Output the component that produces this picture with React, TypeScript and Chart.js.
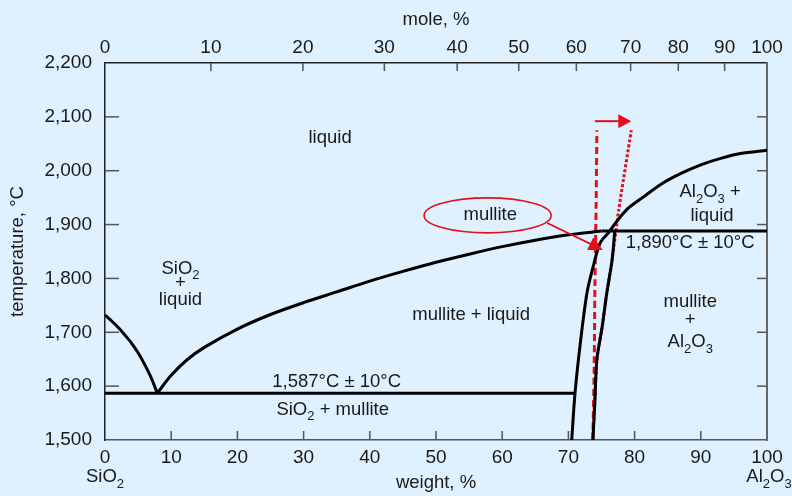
import React, { useEffect, useRef } from "react";
import { Chart, registerables } from "chart.js";
Chart.register(...registerables);

const BG = "#dff0fe";
const RED = "#e3101c";
const FONT = "Liberation Sans";

// axes
const weightTicks = [0, 10, 20, 30, 40, 50, 60, 70, 80, 90, 100];
const tempTicks = [1500, 1600, 1700, 1800, 1900, 2000, 2100, 2200];
const moleLabels = [0, 10, 20, 30, 40, 50, 60, 70, 80, 90, 100];
const moleAtWeight = [0, 16.0, 29.9, 42.2, 53.2, 62.5, 71.2, 79.4, 86.6, 93.6, 100];

// phase boundaries (weight %, °C)
const silicaLiqW = [0, 1, 2, 3, 4, 5, 6, 7, 7.9];
const silicaLiqT = [1732, 1721, 1709, 1695, 1680, 1662, 1640, 1615, 1587];
const mulliteLiqW = [7.9, 10, 12.4, 15, 20, 25, 30, 35, 40, 45, 50, 55, 60, 65, 70, 75];
const mulliteLiqT = [1587, 1620, 1649, 1672, 1706, 1733, 1755, 1775, 1795, 1813, 1830, 1845, 1859, 1871, 1881, 1888];
const eutecticW = [0, 71];
const eutecticT = [1587, 1587];
const peritecticW = [75, 100];
const peritecticT = [1888, 1888];
const mulliteLeftW = [70.5, 71.0, 71.8, 72.8, 73.7, 74.8, 76.0, 77.3, 79, 81.3, 84, 87, 90, 93, 96, 100];
const mulliteLeftT = [1500, 1587, 1680, 1773, 1820, 1866, 1884, 1906, 1930, 1951, 1975, 1995, 2011, 2023, 2032, 2038];
const mulliteRightW = [73.7, 74.0, 74.3, 75.1, 75.8, 76.6, 77.0];
const mulliteRightT = [1500, 1570, 1649, 1710, 1773, 1834, 1888];
const redDashedW = [73.7, 73.9, 74.0, 74.2, 74.3];
const redDashedT = [1500, 1640, 1780, 1950, 2075];
const redDottedW = [73.7, 74.3, 75.1, 75.8, 76.6, 77.6, 79.5];
const redDottedT = [1500, 1649, 1710, 1773, 1834, 1927, 2075];

// annotations (weight %, °C)
const shiftArrowW = [74.0, 79.5];
const shiftArrowT = [2092, 2092];
const pointerW = [66.8, 75.2];
const pointerT = [1903, 1853];
const ellipseCenter = [57.8, 1917];
const ellipseRadius = [9.6, 32.5];

type Part = { t: string; sub?: boolean };
const labels: { parts: Part[]; w: number; T: number }[] = [
  { parts: [{ t: "liquid" }], w: 34.0, T: 2061 },
  { parts: [{ t: "SiO" }, { t: "2", sub: true }], w: 11.4, T: 1818 },
  { parts: [{ t: "+" }], w: 11.4, T: 1792 },
  { parts: [{ t: "liquid" }], w: 11.4, T: 1760 },
  { parts: [{ t: "mullite + liquid" }], w: 55.3, T: 1732 },
  { parts: [{ t: "Al" }, { t: "2", sub: true }, { t: "O" }, { t: "3", sub: true }, { t: " +" }], w: 91.4, T: 1960 },
  { parts: [{ t: "liquid" }], w: 91.7, T: 1916 },
  { parts: [{ t: "1,890°C ± 10°C" }], w: 88.4, T: 1866 },
  { parts: [{ t: "mullite" }], w: 88.4, T: 1756 },
  { parts: [{ t: "+" }], w: 88.4, T: 1723 },
  { parts: [{ t: "Al" }, { t: "2", sub: true }, { t: "O" }, { t: "3", sub: true }], w: 88.4, T: 1682 },
  { parts: [{ t: "1,587°C ± 10°C" }], w: 35.0, T: 1608 },
  { parts: [{ t: "SiO" }, { t: "2", sub: true }, { t: " + mullite" }], w: 34.4, T: 1556 },
  { parts: [{ t: "mullite" }], w: 58.2, T: 1918 },
];

const pts = (w: number[], t: number[]) => w.map((x, i) => ({ x, y: t[i] }));

function drawRich(ctx: CanvasRenderingContext2D, parts: Part[], x: number, y: number, size: number) {
  const main = `${size}px "${FONT}"`;
  const sub = `${Math.round(size * 0.72)}px "${FONT}"`;
  let total = 0;
  for (const p of parts) {
    ctx.font = p.sub ? sub : main;
    total += ctx.measureText(p.t).width;
  }
  let cx = x - total / 2;
  ctx.textAlign = "left";
  ctx.textBaseline = "middle";
  for (const p of parts) {
    ctx.font = p.sub ? sub : main;
    ctx.fillText(p.t, cx, p.sub ? y + size * 0.38 : y);
    cx += ctx.measureText(p.t).width;
  }
}

function arrowHead(ctx: CanvasRenderingContext2D, x0: number, y0: number, x1: number, y1: number, len: number, half: number) {
  const a = Math.atan2(y1 - y0, x1 - x0);
  ctx.beginPath();
  ctx.moveTo(x1, y1);
  ctx.lineTo(x1 - len * Math.cos(a) + half * Math.sin(a), y1 - len * Math.sin(a) - half * Math.cos(a));
  ctx.lineTo(x1 - len * Math.cos(a) - half * Math.sin(a), y1 - len * Math.sin(a) + half * Math.cos(a));
  ctx.closePath();
  ctx.fill();
}

const decor = {
  id: "decor",
  beforeDraw(chart: any) {
    const { ctx, width, height } = chart;
    ctx.save();
    ctx.fillStyle = BG;
    ctx.fillRect(0, 0, width, height);
    ctx.restore();
  },
  beforeDatasetsDraw(chart: any) {
    const { ctx, chartArea, scales } = chart;
    const xs = scales.x, ys = scales.y;
    ctx.save();
    ctx.strokeStyle = "#555";
    ctx.lineWidth = 1.5;
    const seg = (a: number, b: number, c: number, d: number) => {
      ctx.beginPath();
      ctx.moveTo(a, b);
      ctx.lineTo(c, d);
      ctx.stroke();
    };
    weightTicks.slice(1, -1).forEach((v) => {
      const X = xs.getPixelForValue(v);
      seg(X, chartArea.bottom, X, chartArea.bottom - 9);
    });
    moleAtWeight.slice(1, -1).forEach((v) => {
      const X = xs.getPixelForValue(v);
      seg(X, chartArea.top, X, chartArea.top + 8);
    });
    tempTicks.slice(1, -1).forEach((v) => {
      const Y = ys.getPixelForValue(v);
      seg(chartArea.left, Y, chartArea.left + 14, Y);
      seg(chartArea.right, Y, chartArea.right - 10, Y);
    });
    ctx.restore();
  },
  afterDatasetsDraw(chart: any) {
    const { ctx, chartArea, scales } = chart;
    const xs = scales.x, ys = scales.y;
    const px = (v: number) => xs.getPixelForValue(v);
    const py = (v: number) => ys.getPixelForValue(v);
    ctx.save();
    ctx.strokeStyle = RED;
    ctx.fillStyle = RED;
    ctx.lineWidth = 2;
    // shift arrow at top
    {
      const x0 = px(shiftArrowW[0]), y0 = py(shiftArrowT[0]);
      const x1 = px(shiftArrowW[1]), y1 = py(shiftArrowT[1]);
      ctx.beginPath();
      ctx.moveTo(x0, y0);
      ctx.lineTo(x1 - 8, y1);
      ctx.stroke();
      arrowHead(ctx, x0, y0, x1, y1, 13, 7);
    }
    // ellipse
    {
      const cx = px(ellipseCenter[0]), cy = py(ellipseCenter[1]);
      const rx = px(ellipseCenter[0] + ellipseRadius[0]) - cx;
      const ry = cy - py(ellipseCenter[1] + ellipseRadius[1]);
      ctx.lineWidth = 1.6;
      ctx.beginPath();
      ctx.ellipse(cx, cy, rx, ry, 0, 0, Math.PI * 2);
      ctx.stroke();
    }
    // pointer arrow
    {
      const x0 = px(pointerW[0]), y0 = py(pointerT[0]);
      const x1 = px(pointerW[1]), y1 = py(pointerT[1]);
      ctx.lineWidth = 1.8;
      const a = Math.atan2(y1 - y0, x1 - x0);
      ctx.beginPath();
      ctx.moveTo(x0, y0);
      ctx.lineTo(x1 - 8 * Math.cos(a), y1 - 8 * Math.sin(a));
      ctx.stroke();
      arrowHead(ctx, x0, y0, x1, y1, 14, 7);
    }
    // labels
    ctx.fillStyle = "#1a1a1a";
    labels.forEach((l) => drawRich(ctx, l.parts, px(l.w), py(l.T), 18.5));
    drawRich(ctx, [{ t: "SiO" }, { t: "2", sub: true }], px(0), chartArea.bottom + 37, 18.5);
    drawRich(ctx, [{ t: "Al" }, { t: "2", sub: true }, { t: "O" }, { t: "3", sub: true }], px(100) + 2, chartArea.bottom + 37, 18.5);
    ctx.restore();
  },
};

export default function App() {
  const ref = useRef<HTMLCanvasElement>(null);
  useEffect(() => {
    document.body.style.margin = "0";
    document.body.style.background = BG;
    const font = { family: FONT, size: 19 };
    const tfont = { family: FONT, size: 18.5 };
    const black = (w: number[], t: number[]) => ({
      data: pts(w, t),
      borderColor: "#000",
      borderWidth: 3,
      tension: 0.3,
      pointRadius: 0,
      showLine: true,
      xAxisID: "x",
      yAxisID: "y",
    });
    const chart = new Chart(ref.current!, {
      type: "scatter",
      data: {
        datasets: [
          black(silicaLiqW, silicaLiqT),
          black(mulliteLiqW, mulliteLiqT),
          { ...black(eutecticW, eutecticT), tension: 0 },
          { ...black(peritecticW, peritecticT), tension: 0 },
          black(mulliteLeftW, mulliteLeftT),
          black(mulliteRightW, mulliteRightT),
          { ...black(redDashedW, redDashedT), borderColor: RED, borderWidth: 3, borderDash: [7, 4], tension: 0.2 },
          { ...black(redDottedW, redDottedT), borderColor: RED, borderWidth: 3, borderDash: [3, 2], tension: 0.2 },
        ] as any,
      },
      options: {
        animation: false,
        responsive: true,
        maintainAspectRatio: false,
        layout: { padding: 0 },
        plugins: { legend: { display: false }, tooltip: { enabled: false } },
        scales: {
          x: {
            type: "linear",
            position: "bottom",
            min: 0,
            max: 100,
            afterBuildTicks: (s: any) => {
              s.ticks = weightTicks.map((v) => ({ value: v }));
            },
            afterFit: (s: any) => {
              s.height = 56;
            },
            ticks: { font, color: "#1a1a1a", padding: 6, maxRotation: 0, autoSkip: false },
            grid: { display: false, drawTicks: false },
            border: { display: true, color: "#555", width: 1.5 },
            title: { display: true, text: "weight, %", font: tfont, color: "#1a1a1a", padding: { top: 0, bottom: 2 } },
          },
          x2: {
            type: "linear",
            position: "top",
            min: 0,
            max: 100,
            afterBuildTicks: (s: any) => {
              s.ticks = moleAtWeight.map((v) => ({ value: v }));
            },
            afterFit: (s: any) => {
              s.height = 63;
            },
            ticks: {
              font,
              color: "#1a1a1a",
              padding: 4,
              maxRotation: 0,
              autoSkip: false,
              callback: (_v: any, i: number) => String(moleLabels[i]),
            },
            grid: { display: false, drawTicks: false },
            border: { display: true, color: "#222", width: 1.5 },
            title: { display: true, text: "mole, %", font: tfont, color: "#1a1a1a", padding: { top: 9, bottom: 0 } },
          },
          y: {
            type: "linear",
            position: "left",
            min: 1500,
            max: 2200,
            afterBuildTicks: (s: any) => {
              s.ticks = tempTicks.map((v) => ({ value: v }));
            },
            afterFit: (s: any) => {
              s.width = 105;
            },
            ticks: {
              font,
              color: "#1a1a1a",
              padding: 13,
              callback: (v: any) => Number(v).toLocaleString("en-US"),
            },
            grid: { display: false, drawTicks: false },
            border: { display: true, color: "#222", width: 1.5 },
            title: { display: true, text: "temperature, °C", font: tfont, color: "#1a1a1a", padding: { top: 7, bottom: 0 } },
          },
          y2: {
            type: "linear",
            position: "right",
            min: 1500,
            max: 2200,
            afterFit: (s: any) => {
              s.width = 25;
            },
            ticks: { display: false },
            grid: { display: false, drawTicks: false },
            border: { display: true, color: "#666", width: 2 },
          },
        },
      } as any,
      plugins: [decor],
    });
    return () => chart.destroy();
  }, []);
  return (
    <div style={{ position: "fixed", left: 0, top: 0, width: 792, height: 496, background: BG }}>
      <canvas ref={ref} />
    </div>
  );
}
